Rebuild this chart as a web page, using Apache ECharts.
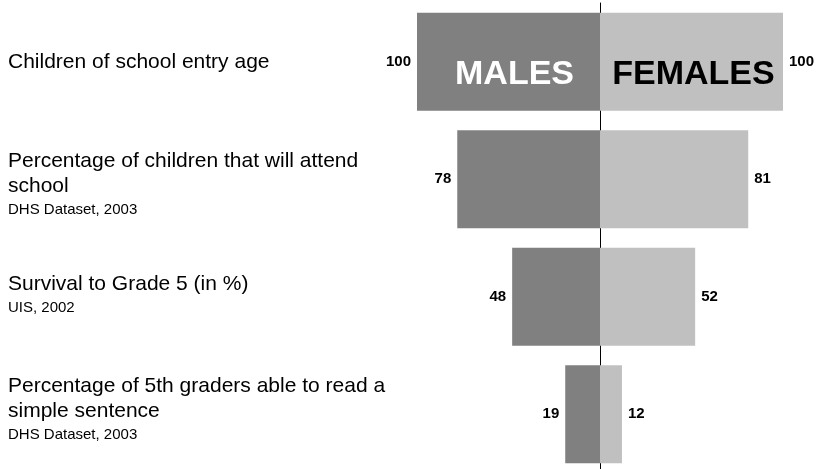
<!DOCTYPE html>
<html>
<head>
<meta charset="utf-8">
<script src="https://cdn.jsdelivr.net/npm/echarts@6/dist/echarts.min.js"></script>
<style>
  html, body { margin: 0; padding: 0; background: #ffffff; overflow: hidden; }
  #chart { width: 818px; height: 480px; }
</style>
</head>
<body>
<div id="chart"></div>
<script>
// Indicator rows, top to bottom
const categories = [
  'Children of school entry age',
  'Percentage of children that will attend\nschool',
  'Survival to Grade 5 (in %)',
  'Percentage of 5th graders able to read a\nsimple sentence'
];
const sources = ['', 'DHS Dataset, 2003', 'UIS, 2002', 'DHS Dataset, 2003'];

// Values per sex (males drawn to the left of the centre line)
const males = [100, 78, 48, 19];
const females = [100, 81, 52, 12];

const sexNames = ['MALES', 'FEMALES'];

const FONT = 'Arial, "Liberation Sans", Helvetica, sans-serif';

const maleData = males.map(v => -v);
const femaleData = females.slice();

// Big sex tags sit only in the first row
const maleTag = maleData.map((v, i) => (i === 0 ? v : '-'));
const femaleTag = femaleData.map((v, i) => (i === 0 ? v : '-'));

// Blank spacer lines that nudge a caption block down (top) or up (bottom)
const spacerTop = [0, 12, 0, 0];
const spacerBottom = [0, 0, 2, 8];

const valueLabel = (pos) => ({
  show: true,
  position: pos,
  distance: 6,
  fontFamily: FONT,
  fontSize: 15,
  fontWeight: 'bold',
  color: '#000000',
  formatter: p => Math.abs(p.value)
});

const richStyles = {
  t: { fontFamily: FONT, fontSize: 21, lineHeight: 25, color: '#000000' },
  s: { fontFamily: FONT, fontSize: 15, lineHeight: 23, color: '#000000' }
};
[2, 8, 12].forEach(h => {
  richStyles['g' + h] = { fontSize: 1, lineHeight: h, height: h };
});

const chart = echarts.init(document.getElementById('chart'), null, { renderer: 'canvas' });

chart.setOption({
  animation: false,
  backgroundColor: '#ffffff',
  grid: { left: 417, width: 366, top: 3, height: 470, containLabel: false, outerBoundsMode: 'none' },
  xAxis: {
    type: 'value',
    min: -100,
    max: 100,
    show: false
  },
  yAxis: [
    {
      // centre divider line
      type: 'category',
      inverse: true,
      data: categories,
      axisLine: { show: true, onZero: true, lineStyle: { color: '#000000', width: 1 } },
      axisTick: { show: false },
      axisLabel: { show: false },
      splitLine: { show: false }
    },
    {
      // row captions on the left
      type: 'category',
      inverse: true,
      position: 'left',
      data: categories,
      axisLine: { show: false, onZero: false },
      axisTick: { show: false },
      splitLine: { show: false },
      axisLabel: {
        show: true,
        margin: 409,
        align: 'left',
        fontFamily: FONT,
        formatter: (value, idx) => {
          const lines = value.split('\n').map(l => '{t|' + l + '}');
          if (sources[idx]) lines.push('{s|' + sources[idx] + '}');
          if (spacerTop[idx]) lines.unshift('{g' + spacerTop[idx] + '| }');
          if (spacerBottom[idx]) lines.push('{g' + spacerBottom[idx] + '| }');
          return lines.join('\n');
        },
        rich: richStyles
      }
    }
  ],
  series: [
    {
      name: sexNames[0],
      type: 'bar',
      yAxisIndex: 0,
      barWidth: 98,
      barGap: '-100%',
      data: maleData,
      itemStyle: { color: '#808080' },
      label: valueLabel('left'),
      z: 2
    },
    {
      name: sexNames[1],
      type: 'bar',
      yAxisIndex: 0,
      barWidth: 98,
      barGap: '-100%',
      data: femaleData,
      itemStyle: { color: '#c0c0c0' },
      label: valueLabel('right'),
      z: 2
    },
    {
      name: sexNames[0] + ' tag',
      type: 'bar',
      yAxisIndex: 0,
      barWidth: 98,
      barGap: '-100%',
      data: maleTag,
      itemStyle: { color: 'rgba(0,0,0,0)' },
      label: {
        show: true,
        position: 'inside',
        offset: [6, 13],
        formatter: sexNames[0],
        fontFamily: FONT,
        fontSize: 34,
        fontWeight: 'bold',
        color: '#ffffff'
      },
      silent: true,
      z: 3
    },
    {
      name: sexNames[1] + ' tag',
      type: 'bar',
      yAxisIndex: 0,
      barWidth: 98,
      barGap: '-100%',
      data: femaleTag,
      itemStyle: { color: 'rgba(0,0,0,0)' },
      label: {
        show: true,
        position: 'inside',
        offset: [2, 13],
        formatter: sexNames[1],
        fontFamily: FONT,
        fontSize: 34,
        fontWeight: 'bold',
        color: '#000000'
      },
      silent: true,
      z: 3
    }
  ]
});
</script>
</body>
</html>
